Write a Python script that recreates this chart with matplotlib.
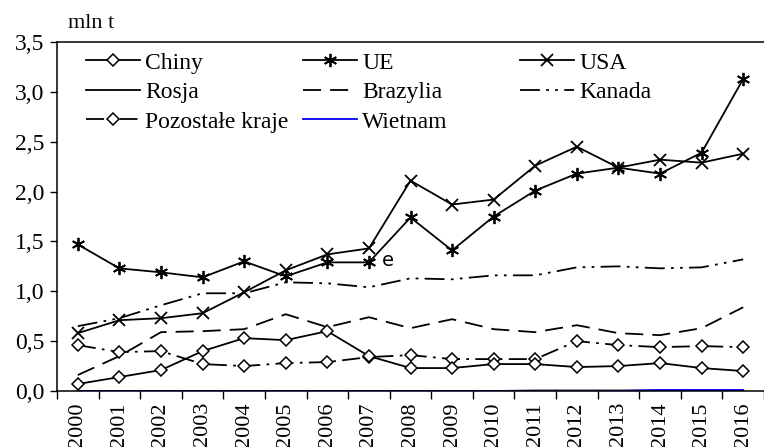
import numpy as np
import matplotlib
matplotlib.use("Agg")
import matplotlib.pyplot as plt

years = [str(y) for y in range(2000, 2017)]

chiny = [0.07, 0.14, 0.21, 0.40, 0.53, 0.51, 0.60, 0.35, 0.23, 0.23, 0.27, 0.27, 0.24, 0.25, 0.28, 0.23, 0.20]
ue = [1.47, 1.23, 1.19, 1.14, 1.30, 1.15, 1.29, 1.29, 1.74, 1.41, 1.75, 2.01, 2.18, 2.24, 2.18, 2.39, 3.13]
usa = [0.58, 0.71, 0.73, 0.78, 0.99, 1.21, 1.37, 1.43, 2.11, 1.87, 1.92, 2.26, 2.45, 2.24, 2.32, 2.29, 2.38]
rosja = [0.0, 0.0, 0.0, 0.0, 0.0, 0.0, 0.0, 0.0, 0.0, 0.0, 0.0, 0.005, 0.005, 0.005, 0.005, 0.005, 0.005]
brazylia = [0.16, 0.35, 0.59, 0.60, 0.62, 0.77, 0.64, 0.74, 0.63, 0.72, 0.62, 0.59, 0.66, 0.58, 0.56, 0.63, 0.84]
kanada = [0.65, 0.73, 0.86, 0.98, 0.98, 1.09, 1.08, 1.04, 1.13, 1.12, 1.16, 1.16, 1.24, 1.25, 1.23, 1.24, 1.32]
pozostale = [0.46, 0.39, 0.40, 0.27, 0.25, 0.28, 0.29, 0.34, 0.36, 0.32, 0.32, 0.32, 0.50, 0.46, 0.44, 0.45, 0.44]
wietnam = [0.0, 0.0, 0.0, 0.0, 0.0, 0.0, 0.0, 0.0, 0.0, 0.0, 0.0, 0.0, 0.0, 0.0, 0.01, 0.01, 0.01]

plt.rcParams['font.family'] = ['Liberation Serif', 'DejaVu Serif']
plt.rcParams['font.size'] = 15

fig = plt.figure(figsize=(7.64, 4.47), dpi=100)
ax = fig.add_axes([57/764, 56/447, 1 - 57/764, 349/447])

x = np.arange(len(years))
lw = 1.3
asterisk = (6, 2, 0)
diamond = dict(marker='D', markersize=6.5, markerfacecolor='white',
               markeredgecolor='black', markeredgewidth=1.1)

l_rosja, = ax.plot(x, rosja, color='black', lw=lw)
l_wiet, = ax.plot(x, wietnam, color='#0000ff', lw=lw)
l_braz, = ax.plot(x, brazylia, color='black', lw=lw, dashes=(10, 5))
l_kan, = ax.plot(x, kanada, color='black', lw=lw, dashes=(11, 3.5, 1.5, 3.5, 1.5, 3.5))
l_poz, = ax.plot(x, pozostale, color='black', lw=lw, dashes=(10, 3.5, 1.5, 3.5), **diamond)
l_chiny, = ax.plot(x, chiny, color='black', lw=lw, **diamond)
l_usa, = ax.plot(x, usa, color='black', lw=lw, marker='x', markersize=8, markeredgewidth=1.3)
l_ue, = ax.plot(x, ue, color='black', lw=lw, marker=asterisk, markersize=9.5, markeredgewidth=1.3)

ax.text(7.3, 1.31, 'e', fontsize=14, family='DejaVu Sans', va='center', ha='left')

ax.set_xlim(-0.5, -0.5 + 707 / 42.06)
ax.set_ylim(0, 3.5)
yt = np.arange(0, 3.51, 0.5)
ax.set_yticks(yt)
ax.set_yticklabels([f'{v:.1f}'.replace('.', ',') for v in yt], fontsize=17)
ax.set_xticks(x)
ax.set_xticklabels(years, rotation=90, fontsize=16)
ax.set_xticks(np.arange(-0.5, 17, 1), minor=True)
ax.tick_params(axis='x', which='major', length=0, pad=8)
ax.tick_params(axis='x', which='minor', length=6, direction='out', width=1)
ax.tick_params(axis='y', length=5, direction='out', width=1, pad=4)
ax.spines['right'].set_visible(False)
for s in ['left', 'bottom', 'top']:
    ax.spines[s].set_linewidth(1.1)

fig.text(68/764, 1 - 24/447, 'mln t', fontsize=16, va='center', ha='left')

common = dict(frameon=False, fontsize=17, handlelength=2.3, handletextpad=0.2,
              labelspacing=0.34, borderaxespad=0, borderpad=0)
top = 1 - 52/447
leg1 = ax.legend([l_chiny, l_rosja, l_poz], ['Chiny', 'Rosja', 'Pozostałe kraje'],
                 loc='upper left', bbox_to_anchor=(86/764, top),
                 bbox_transform=fig.transFigure, **common)
ax.add_artist(leg1)
leg2 = ax.legend([l_ue, l_braz, l_wiet], ['UE', 'Brazylia', 'Wietnam'],
                 loc='upper left', bbox_to_anchor=(303/764, top),
                 bbox_transform=fig.transFigure, **common)
ax.add_artist(leg2)
leg3 = ax.legend([l_usa, l_kan], ['USA', 'Kanada'],
                 loc='upper left', bbox_to_anchor=(520/764, top),
                 bbox_transform=fig.transFigure, **common)

fig.savefig('out.png', dpi=100)
